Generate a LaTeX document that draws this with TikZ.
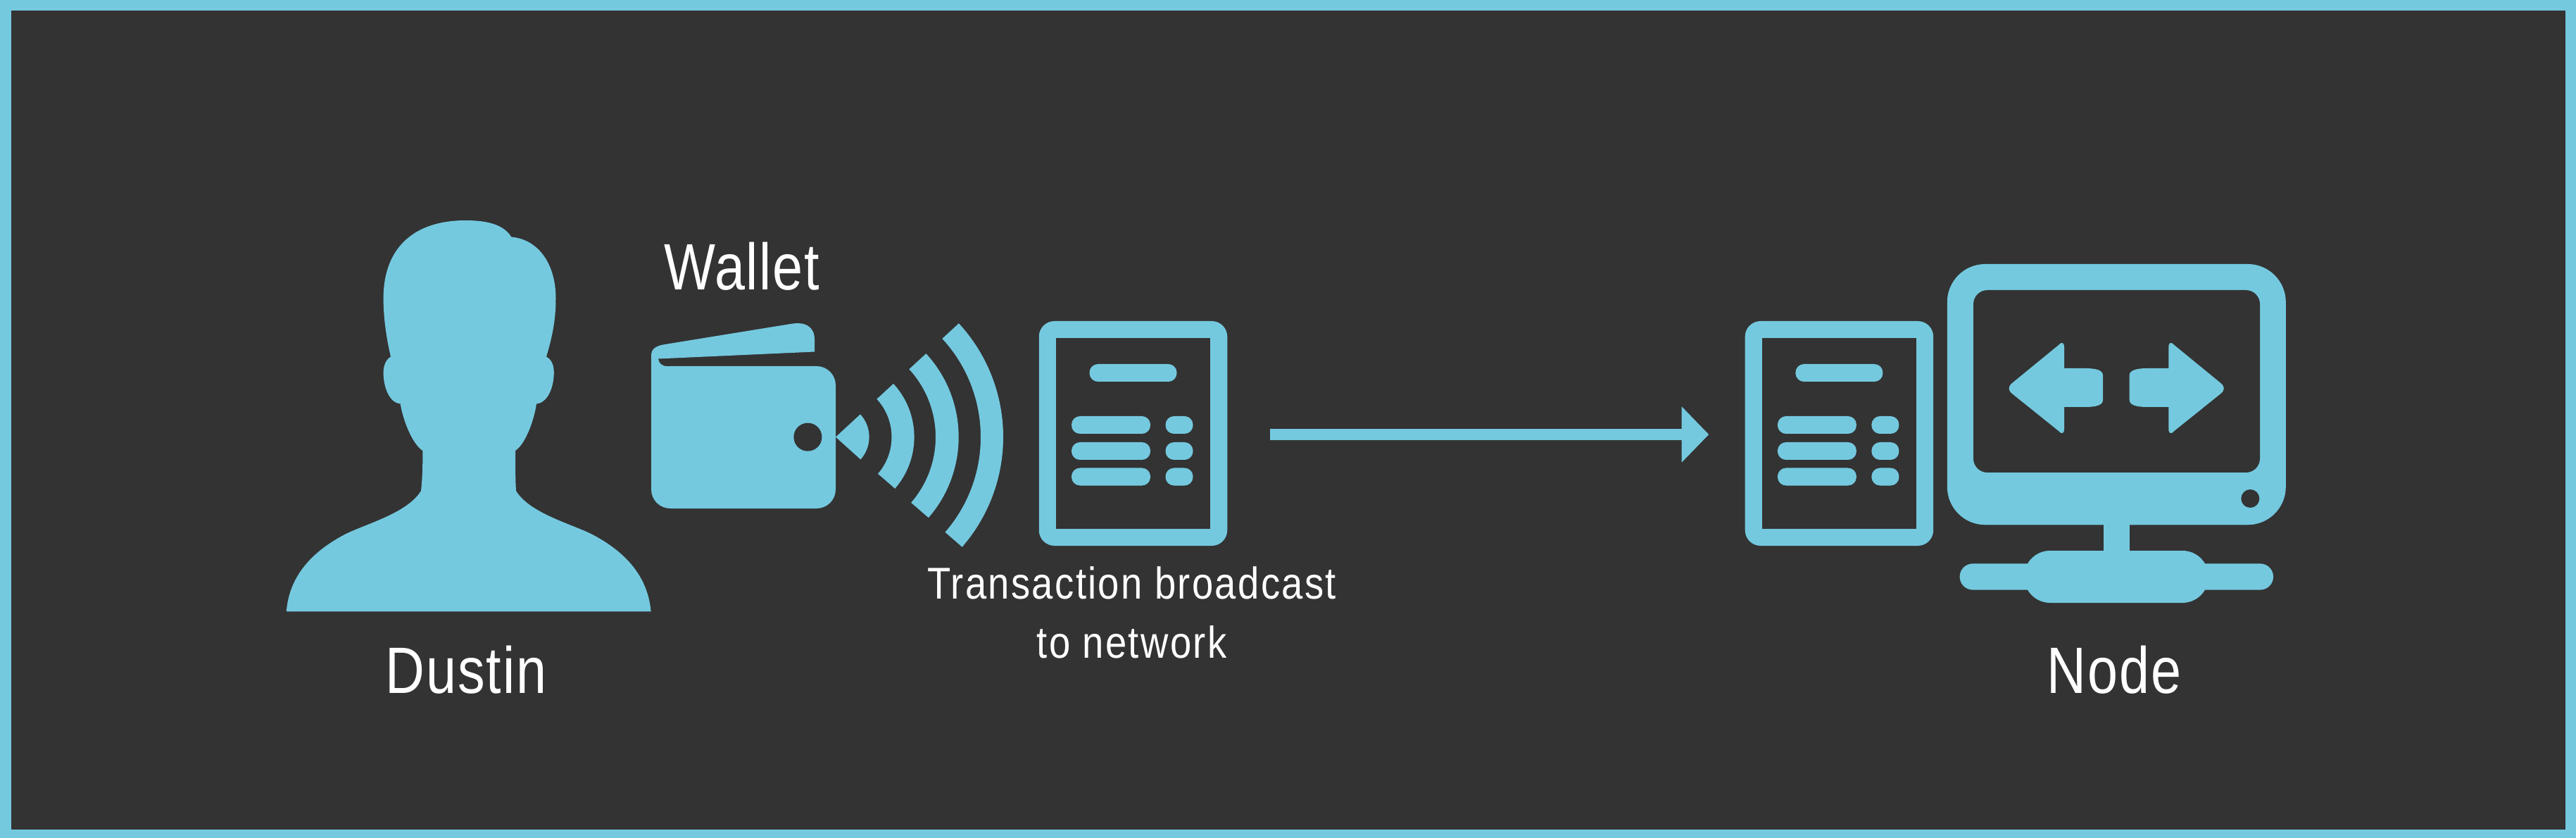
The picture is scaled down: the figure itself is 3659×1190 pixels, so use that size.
\documentclass[tikz,border=0pt]{standalone}
\usepackage{fontspec}
\newfontfamily\bigfam[FakeStretch=0.83,LetterSpace=2]{Liberation Sans}
\newfontfamily\smallfam[FakeStretch=0.86,LetterSpace=3.7]{Liberation Sans}
\usetikzlibrary{arrows.meta,calc}
\definecolor{bgc}{HTML}{333333}
\definecolor{acc}{HTML}{74C9DF}
\tikzset{
  x=0.2mm,y=-0.2mm,
  acfill/.style={fill=acc,draw=none},
  docbody/.style={rectangle,fill=acc,draw=none,minimum width=53.5mm,minimum height=63.8mm,rounded corners=4.4mm,inner sep=0pt},
  lbl/.style={text=white,inner sep=0pt,align=center,anchor=base},
  biglbl/.style={lbl,font=\bigfam\fontsize{53}{53}\selectfont},
  smalllbl/.style={lbl,font=\smallfam\fontsize{36}{48}\selectfont},
  bar/.style={acfill,rounded corners=2.4mm},
  pics/docicon/.style={code={
    \fill[bgc] (-109.5,-135) rectangle (109.5,135.5);
    \fill[bar] (-62,-98.5) rectangle (62,-73.5);
    \foreach \yy in {-24.5,12.5,49}{
      \fill[bar] (-87.5,\yy) rectangle (24.5,\yy+25);
      \fill[bar] (46,\yy) rectangle (85,\yy+25);
    }
  }},
}
\newcommand{\wave}[2]{\fill[acc] (1187,620.6) ++(-42.7:#1) arc[start angle=-42.7,end angle=41,radius=#1] -- ($(1187,620.6)+(41:#2)$) arc[start angle=41,end angle=-42.7,radius=#2] -- cycle;}
\begin{document}
\begin{tikzpicture}
\useasboundingbox (0,0) rectangle (3659,1190);
\fill[acc] (0,0) rectangle (3659,1190);
\fill[bgc] (15.5,15.5) rectangle (3643.7,1178.3);

% person
\fill[acc] (406.8,868.4) .. controls (411,815) and (447,782) .. (487,760.4)
  .. controls (515,745) and (578,730) .. (598,697)
  .. controls (600,680) and (600.4,660) .. (600.4,640)
  .. controls (585,630) and (572,595) .. (568.7,573.4)
  .. controls (553,572) and (544.6,550) .. (544.6,529)
  .. controls (544.6,518) and (549,510) .. (555,506.6)
  .. controls (550,485) and (544.6,455) .. (544.6,424)
  .. controls (544.6,350) and (590,313) .. (661,313)
  .. controls (695,313) and (716,320) .. (726.3,336.5)
  .. controls (765,340) and (789.5,375) .. (789.5,424)
  .. controls (789.5,455) and (784,480) .. (776,506.6)
  .. controls (783,510) and (786.8,518) .. (786.8,529)
  .. controls (786.8,550) and (778,572) .. (762,573.4)
  .. controls (759,595) and (747,630) .. (732,640)
  .. controls (732,660) and (732,680) .. (733,697)
  .. controls (753,730) and (816,745) .. (844,760.4)
  .. controls (884,782) and (920,815) .. (924.6,868.4) -- cycle;
\node[biglbl] (dustin) at (662,984) {Dustin};

% wallet
\fill[acc,rounded corners=5.4mm] (925,520) rectangle (1187,722);
\fill[acc] (925,520) rectangle (960,560);
\fill[acc] (925,505) .. controls (925,495) and (932,491) .. (944.6,489) -- (1123,460)
  .. controls (1145,456) and (1157,465) .. (1157,482) -- (1157,499.5) -- (935,509.5)
  .. controls (936,516) and (940,520) .. (948,520) -- (948,530) -- (925,530) -- cycle;
\fill[bgc] (1147.4,620.6) circle[radius=20];
\node[biglbl] (wallet) at (1053.7,412) {Wallet};

% waves
\fill[acc] (1187,620.6) -- ($(1187,620.6)+(-42.7:47.6)$) arc[start angle=-42.7,end angle=42,radius=47.6] -- cycle;
\wave{111.6}{79.5}
\wave{174.7}{142}
\wave{238}{206}

% transactions
\node[docbody] (tx1) at (1609.5,615.5) {};
\pic at (tx1.center) {docicon};
\node[docbody] (tx2) at (2612.4,615.5) {};
\pic at (tx2.center) {docicon};
\node[smalllbl] (txlabel) at (1607.5,934.4) {Transaction broadcast\\to network};

% connector
\coordinate (aS) at ([shift={(60,1.5)}]tx1.east);
\coordinate (aE) at ([shift={(-51,1.5)}]tx2.west);
\draw[acc,line width=3.2mm,-{Triangle[length=7.72mm,width=15.4mm]}] (aS) -- (aE);

% monitor
\fill[acc,rounded corners=10.8mm] (2765.8,375) rectangle (3246.8,745.3);
\fill[bgc,rounded corners=4mm] (2803,412) rectangle (3210,671);
\fill[bgc] (3196.3,708) circle[radius=13];
\fill[acc] (2988,745) rectangle (3024.7,785);
\fill[acc,rounded corners=7.4mm] (2875,782) rectangle (3137,856);
\fill[acc,rounded corners=3.7mm] (2783.6,800.4) rectangle (3229,837.6);
\fill[acc] (2932,523) -- (2932,493) .. controls (2932,486) and (2928,485) .. (2924,490)
  -- (2858,544) .. controls (2852,549) and (2852,554) .. (2858,559)
  -- (2924,612) .. controls (2928,617) and (2932,616) .. (2932,609)
  -- (2932,578) -- (2962,578) .. controls (2978,578) and (2987,575) .. (2987,568)
  -- (2987,533) .. controls (2987,526) and (2978,523) .. (2962,523) -- cycle;
\fill[acc] (3080.3,523) -- (3080.3,493) .. controls (3080.3,486) and (3084.3,485) .. (3088.3,490)
  -- (3154.3,544) .. controls (3160.3,549) and (3160.3,554) .. (3154.3,559)
  -- (3088.3,612) .. controls (3084.3,617) and (3080.3,616) .. (3080.3,609)
  -- (3080.3,578) -- (3050,578) .. controls (3034,578) and (3024.7,575) .. (3024.7,568)
  -- (3024.7,533) .. controls (3024.7,526) and (3034,523) .. (3050,523) -- cycle;
\node[biglbl] (node) at (3003,984) {Node};
\end{tikzpicture}
\end{document}
